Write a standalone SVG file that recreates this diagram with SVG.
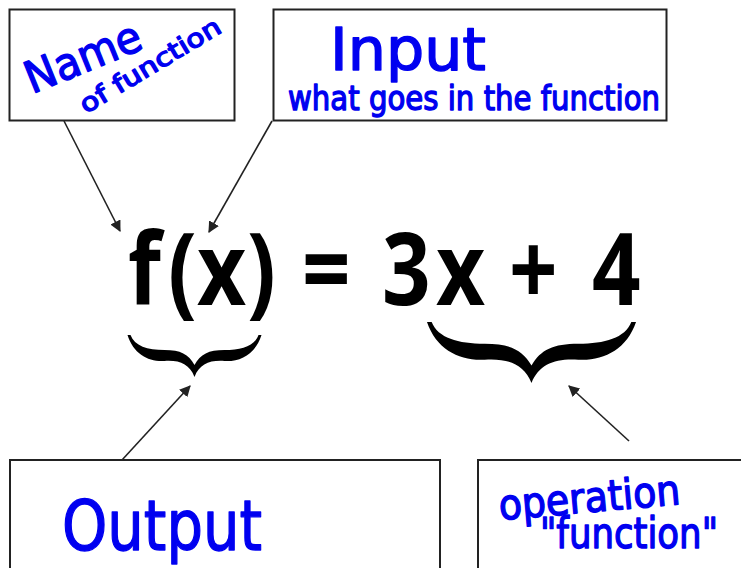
<svg xmlns="http://www.w3.org/2000/svg" width="741" height="568" viewBox="0 0 741 568">
<style>
.box{fill:#fff;stroke:#222;stroke-width:2}
.conn{stroke:#222;stroke-width:1.6;fill:none;marker-end:url(#ah)}
.hw{fill:#0000f0;stroke:#0000f0;stroke-width:1.4;font-family:"DejaVu Sans","Liberation Sans",sans-serif;stroke-linejoin:round}
.eq{fill:#000;font-family:"Open Sans","Noto Sans","DejaVu Sans",sans-serif;font-weight:700;font-size:100px}
</style>
<defs>
<marker id="ah" viewBox="0 0 10 10" refX="9" refY="5" markerWidth="7" markerHeight="7" orient="auto" markerUnits="strokeWidth">
<path d="M0,0 L10,5 L0,10 Z" fill="#222"/>
</marker>
<path id="brace" d="M -67,0 C -61,19 -46,27 -30,26 C -15,25 -5,29 0,42 C 5,29 15,25 30,26 C 46,27 61,19 67,0 L 64,0 C 60,11 47,15 30,15 C 14,15 6,19 0,30 C -6,19 -14,15 -30,15 C -47,15 -60,11 -64,0 Z" fill="#000"/>
</defs>
<rect width="741" height="568" fill="#fff"/>
<g id="connectors">
<line class="conn" x1="64" y1="121" x2="120" y2="231"/>
<line class="conn" x1="272" y1="121" x2="209" y2="232"/>
<line class="conn" x1="122" y1="460" x2="190" y2="386"/>
<line class="conn" x1="629" y1="441" x2="569" y2="386"/>
</g>
<g id="name-box">
<rect class="box" x="9.5" y="9.5" width="225" height="111"/>
<text class="hw" x="32" y="94" font-size="44" textLength="122" lengthAdjust="spacingAndGlyphs" transform="rotate(-22 32 94)">Name</text>
<text class="hw" x="86" y="114" font-size="25" textLength="160" lengthAdjust="spacingAndGlyphs" transform="rotate(-31 86 114)">of function</text>
</g>
<g id="input-box">
<rect class="box" x="273.5" y="9.5" width="393" height="111"/>
<text class="hw" x="330" y="70" font-size="58" textLength="156" lengthAdjust="spacingAndGlyphs">Input</text>
<text class="hw" x="288" y="110" font-size="33" textLength="372" lengthAdjust="spacingAndGlyphs">what goes in the function</text>
</g>
<g id="equation">
<text class="eq" y="305" transform="scale(0.85 1)"><tspan x="150.6">f</tspan><tspan x="197.6">(</tspan><tspan x="231.8">x</tspan><tspan x="290.6">)</tspan><tspan x="355.3">=</tspan><tspan x="449.4">3</tspan><tspan x="512.9">x</tspan><tspan x="598.8">+</tspan><tspan x="696.5">4</tspan></text>
<use href="#brace" transform="translate(194.5 335)"/>
<use href="#brace" transform="translate(531.5 322) scale(1.56 1.45)"/>
</g>
<g id="output-box">
<rect class="box" x="10" y="460" width="430" height="130"/>
<text class="hw" x="62" y="550" font-size="70" textLength="200" lengthAdjust="spacingAndGlyphs">Output</text>
</g>
<g id="operation-box">
<rect class="box" x="478" y="460" width="280" height="130"/>
<text class="hw" x="500" y="520" font-size="42" textLength="182" lengthAdjust="spacingAndGlyphs" transform="rotate(-5 500 520)">operation</text>
<text class="hw" x="540" y="548" font-size="42" textLength="178" lengthAdjust="spacingAndGlyphs">"function"</text>
</g>
</svg>
